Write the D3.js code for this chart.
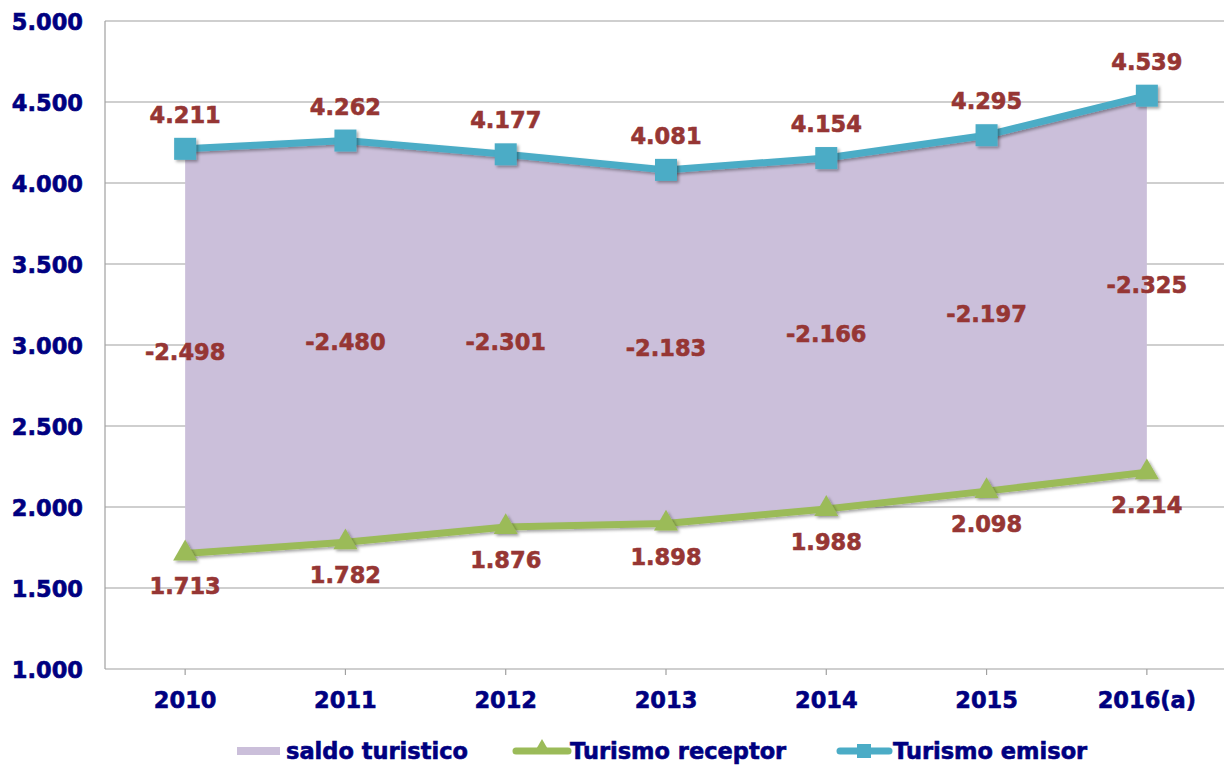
<!DOCTYPE html>
<html><head><meta charset="utf-8">
<script src="https://cdn.jsdelivr.net/npm/d3@7"></script>
<style>
html,body{margin:0;padding:0;background:#fff;}
svg{display:block;font-family:"DejaVu Sans",Verdana,sans-serif;font-weight:bold;}
</style></head>
<body>
<script>
const categories = ["2010","2011","2012","2013","2014","2015","2016(a)"];
const emisor = [4211,4262,4177,4081,4154,4295,4539];
const receptor = [1713,1782,1876,1898,1988,2098,2214];
const saldo = [-2498,-2480,-2301,-2183,-2166,-2197,-2325];
const yTicks = [1000,1500,2000,2500,3000,3500,4000,4500,5000];
const legendLabels = ["saldo turistico","Turismo receptor","Turismo emisor"];

const W = 1224, H = 766;
const colArea = "#CBBFDA", colRec = "#9BBB59", colEm = "#4BACC6", colLab = "#963634", colAxis = "#000080", colGrid = "#a0a0a0";
const fmt = v => d3.format(",")(v).replace(/,/g, ".").replace("\u2212", "-");
const FS = 22.5, SW = 0.6;

const svg = d3.select("body").append("svg").attr("width", W).attr("height", H);
const defs = svg.append("defs");
const f = defs.append("filter").attr("id","sh").attr("x","-30%").attr("y","-30%").attr("width","160%").attr("height","160%");
f.append("feDropShadow").attr("dx",2).attr("dy",2).attr("stdDeviation",1.5).attr("flood-color","#000").attr("flood-opacity",0.35);

const x = d3.scaleBand().domain(categories).range([105, 1227]).padding(0);
const cx = c => x(c) + x.bandwidth()/2;
const y = d3.scaleLinear().domain([1000, 5000]).range([669, 21]);

// gridlines
svg.append("g").selectAll("line").data(yTicks).join("line")
  .attr("x1", 105).attr("x2", W).attr("y1", d => y(d)).attr("y2", d => y(d))
  .attr("stroke", colGrid).attr("stroke-width", 1.2);
svg.append("line").attr("x1",105).attr("x2",105).attr("y1",y(5000)).attr("y2",y(1000)).attr("stroke",colGrid).attr("stroke-width",1.2);

// y axis labels
const yAxis = d3.axisLeft(y).tickValues(yTicks).tickFormat(fmt).tickSize(0).tickPadding(0);
const ya = svg.append("g").attr("transform","translate(83,0)").call(yAxis);
ya.select(".domain").remove();
ya.selectAll("text").attr("fill", colAxis).attr("stroke", colAxis).attr("stroke-width", SW).attr("font-size", FS).attr("font-weight","bold").attr("font-family","DejaVu Sans").attr("dy","0.36em");

// x axis
const xAxis = d3.axisBottom(x).tickSize(6).tickPadding(17);
const xa = svg.append("g").attr("transform","translate(0,669)").call(xAxis);
xa.select(".domain").remove();
xa.selectAll("line").attr("stroke", colGrid).attr("stroke-width",1.2);
xa.selectAll("text").attr("fill", colAxis).attr("stroke", colAxis).attr("stroke-width", SW).attr("font-size", FS).attr("font-weight","bold").attr("font-family","DejaVu Sans");

// area between receptor and emisor
const rows = categories.map((c,i)=>({c, e: emisor[i], r: receptor[i], s: saldo[i]}));
svg.append("path").datum(rows)
  .attr("d", d3.area().x(d=>cx(d.c)).y0(d=>y(d.r)).y1(d=>y(d.e)))
  .attr("fill", colArea);
// area edge lines
[rows[0], rows[rows.length-1]].forEach(d=>{
  svg.append("line").attr("x1",cx(d.c)).attr("x2",cx(d.c)).attr("y1",y(d.e)).attr("y2",y(1000))
    .attr("stroke","#d4d4d4").attr("stroke-width",2).attr("filter","url(#sh)");
});

// lines
const line = key => d3.line().x(d=>cx(d.c)).y(d=>y(d[key]));
svg.append("path").datum(rows).attr("d", line("r")).attr("fill","none").attr("stroke",colRec).attr("stroke-width",7).attr("filter","url(#sh)");
svg.append("path").datum(rows).attr("d", line("e")).attr("fill","none").attr("stroke",colEm).attr("stroke-width",7).attr("filter","url(#sh)");

// markers
const tri = d3.symbol().type(d3.symbolTriangle).size(250);
svg.append("g").selectAll("path").data(rows).join("path")
  .attr("d", tri).attr("transform", d=>`translate(${cx(d.c)},${y(d.r)})`).attr("fill", colRec).attr("filter","url(#sh)");
svg.append("g").selectAll("rect").data(rows).join("rect")
  .attr("x", d=>cx(d.c)-11).attr("y", d=>y(d.e)-11).attr("width",22).attr("height",22).attr("fill", colEm).attr("filter","url(#sh)");

// data labels
const lab = (fy, txt) => svg.append("g").selectAll("text").data(rows).join("text")
  .attr("x", d=>cx(d.c)).attr("y", fy).attr("text-anchor","middle")
  .attr("fill", colLab).attr("stroke", colLab).attr("stroke-width", SW).attr("font-size",FS).text(txt);
lab(d=>y(d.e)-26, d=>fmt(d.e));
lab(d=>y(d.r)+41, d=>fmt(d.r));
lab(d=>y((d.e+d.r)/2)+9, d=>fmt(d.s));

// legend
const lg = svg.append("g");
lg.append("rect").attr("x",237).attr("y",747).attr("width",43).attr("height",8).attr("fill",colArea);
lg.append("line").attr("x1",516).attr("x2",568).attr("y1",751).attr("y2",751).attr("stroke",colRec).attr("stroke-width",7).attr("stroke-linecap","round");
lg.append("path").attr("d", d3.symbol().type(d3.symbolTriangle).size(130)).attr("transform","translate(542,749)").attr("fill",colRec);
lg.append("line").attr("x1",840).attr("x2",889).attr("y1",751).attr("y2",751).attr("stroke",colEm).attr("stroke-width",7).attr("stroke-linecap","round");
lg.append("rect").attr("x",857).attr("y",744).attr("width",14).attr("height",14).attr("fill",colEm);
const lx = [286, 570, 893];
lg.selectAll("text").data(legendLabels).join("text")
  .attr("x",(d,i)=>lx[i]).attr("y",759).attr("fill",colAxis).attr("stroke",colAxis).attr("stroke-width",SW).attr("font-size",FS).text(d=>d);
</script>
</body></html>
